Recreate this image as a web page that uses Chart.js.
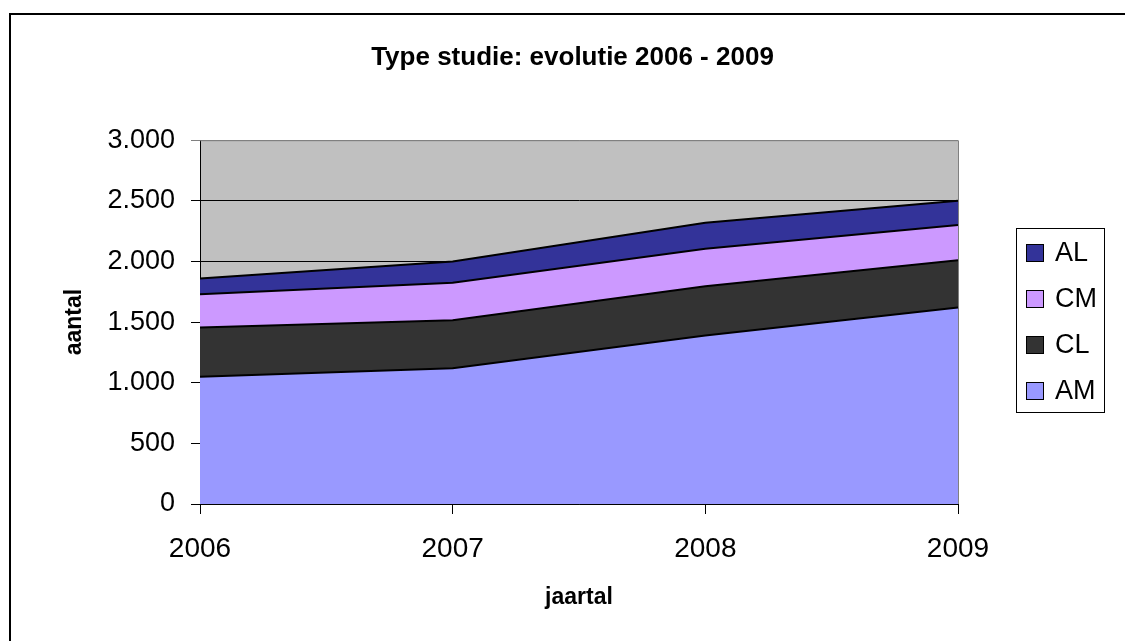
<!DOCTYPE html>
<html>
<head>
<meta charset="utf-8">
<title>Type studie: evolutie 2006 - 2009</title>
<script src="https://cdn.jsdelivr.net/npm/chart.js@4/dist/chart.umd.min.js"></script>
<style>
    html, body { margin: 0; padding: 0; background: #fff; overflow: hidden; }
    #frame { position: absolute; left: 9px; top: 13px; width: 2000px; height: 2000px;
             border-top: 2px solid #000; border-left: 2px solid #000; }
    #wrap { position: absolute; left: 0; top: 0; width: 1125px; height: 641px; }
</style>
</head>
<body>
<div id="frame"></div>
<div id="wrap"><canvas id="studieChart"></canvas></div>
<script>
// Years on the x axis
const years = ['2006', '2007', '2008', '2009'];

// Number of students per study type (stacked, bottom to top)
const amValues = [1050, 1120, 1390, 1620];
const clValues = [405, 395, 405, 390];
const cmValues = [275, 310, 310, 290];
const alValues = [130, 175, 215, 200];

// Y axis ticks
const yTicks = [0, 500, 1000, 1500, 2000, 2500, 3000];

const FONT = '"Liberation Sans", Arial, sans-serif';
Chart.defaults.font.family = FONT;
Chart.defaults.color = '#000';

// grey plot background + grey top/right edge
const plotBackground = {
    id: 'plotBackground',
    beforeDraw(chart) {
        const { ctx, chartArea: a } = chart;
        ctx.save();
        ctx.fillStyle = '#C0C0C0';
        ctx.fillRect(a.left, a.top, a.right - a.left, a.bottom - a.top);
        ctx.restore();
    },
    beforeDatasetsDraw(chart) {
        const { ctx, chartArea: a } = chart;
        ctx.save();
        ctx.strokeStyle = '#808080';
        ctx.lineWidth = 1;
        ctx.beginPath();
        ctx.moveTo(a.left, a.top + 0.5);
        ctx.lineTo(a.right + 0.5, a.top + 0.5);
        ctx.lineTo(a.right + 0.5, a.bottom);
        ctx.stroke();
        ctx.restore();
    }
};

// legend in a framed box, top item = top of the stack
const boxLegend = {
    id: 'boxLegend',
    afterDraw(chart, args, opts) {
        const ctx = chart.ctx;
        ctx.save();
        ctx.strokeStyle = '#000';
        ctx.lineWidth = 1;
        ctx.strokeRect(opts.left, opts.top, opts.width, opts.height);
        const items = chart.data.datasets.slice().reverse();
        ctx.font = opts.fontSize + 'px ' + FONT;
        ctx.textBaseline = 'middle';
        ctx.textAlign = 'left';
        items.forEach((ds, i) => {
            const cy = opts.firstY + i * opts.step;
            ctx.fillStyle = ds.backgroundColor;
            ctx.fillRect(opts.boxX, cy - opts.box / 2, opts.box, opts.box);
            ctx.strokeStyle = '#000';
            ctx.strokeRect(opts.boxX + 0.5, cy - opts.box / 2 + 0.5, opts.box - 1, opts.box - 1);
            ctx.fillStyle = '#000';
            ctx.fillText(ds.label, opts.textX, cy + 1);
        });
        ctx.restore();
    }
};

function dotted(v) {
    return String(v).replace(/\B(?=(\d{3})+(?!\d))/g, '.');
}

function makeSet(label, data, color, fill) {
    return {
        label: label,
        data: data,
        backgroundColor: color,
        borderColor: '#000',
        borderWidth: 2,
        pointRadius: 0,
        pointHoverRadius: 0,
        tension: 0,
        fill: fill
    };
}

const ctx = document.getElementById('studieChart').getContext('2d');

new Chart(ctx, {
    type: 'line',
    data: {
        labels: years,
        datasets: [
            makeSet('AM', amValues, '#9999FF', 'origin'),
            makeSet('CL', clValues, '#333333', '-1'),
            makeSet('CM', cmValues, '#CC99FF', '-1'),
            makeSet('AL', alValues, '#333399', '-1')
        ]
    },
    options: {
        responsive: true,
        maintainAspectRatio: false,
        animation: false,
        layout: {
            padding: { left: 20, top: 0, right: 0, bottom: 0 }
        },
        plugins: {
            legend: { display: false },
            tooltip: { enabled: false },
            title: {
                display: true,
                text: 'Type studie: evolutie 2006 - 2009',
                font: { size: 26, weight: 'bold' },
                color: '#000',
                padding: { top: 42, bottom: 67 }
            },
            boxLegend: {
                left: 1016.5, top: 228.5, width: 88, height: 184,
                boxX: 1026, box: 18, textX: 1055,
                firstY: 253, step: 46, fontSize: 27
            }
        },
        scales: {
            x: {
                offset: false,
                border: { color: '#000', width: 1 },
                grid: {
                    display: true,
                    drawOnChartArea: false,
                    drawTicks: true,
                    tickLength: 10,
                    color: '#000'
                },
                ticks: {
                    font: { size: 28 },
                    padding: 18,
                    maxRotation: 0
                },
                title: {
                    display: true,
                    text: 'jaartal',
                    font: { size: 23, weight: 'bold' },
                    padding: { top: 0, bottom: 30 }
                },
                afterFit: function(scale) { scale.height = 137; }
            },
            y: {
                stacked: true,
                min: 0,
                max: 3000,
                border: { color: '#000', width: 1 },
                grid: {
                    color: c => (c.tick && c.tick.value === yTicks[yTicks.length - 1]) ? '#808080' : '#000',
                    tickLength: 9
                },
                afterBuildTicks: function(scale) {
                    scale.ticks = yTicks.map(v => ({ value: v }));
                },
                ticks: {
                    font: { size: 27 },
                    padding: 16,
                    callback: v => dotted(v)
                },
                title: {
                    display: true,
                    text: 'aantal',
                    font: { size: 23, weight: 'bold' },
                    padding: { top: 41, bottom: 0 }
                },
                afterFit: function(scale) { scale.width = 180; }
            },
            legendSpace: {
                position: 'right',
                display: true,
                grid: { display: false },
                border: { display: false },
                ticks: { display: false },
                afterFit: function(scale) { scale.width = 167; }
            }
        }
    },
    plugins: [plotBackground, boxLegend]
});
</script>
</body>
</html>
